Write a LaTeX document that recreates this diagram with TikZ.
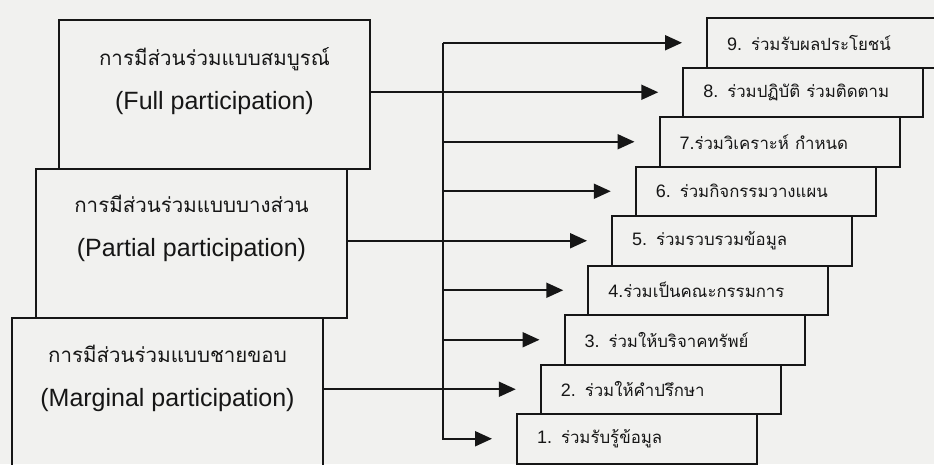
\documentclass[tikz,border=0pt]{standalone}
\usepackage{fontspec}
\setmainfont{Liberation Sans}
\newfontfamily\thaifont[Script=Thai]{Loma}
\usepackage{tikz}
\usetikzlibrary{arrows.meta}
\definecolor{paper}{RGB}{241,241,239}
\definecolor{ink}{RGB}{22,22,22}

\newcommand{\bigthai}[1]{{\thaifont\fontsize{20.5}{44}\selectfont #1}}
\newcommand{\stepthai}[1]{{\thaifont\fontsize{16.8}{22}\selectfont #1}}

\tikzset{
	bigbox/.style={draw, anchor=north west, minimum width=311pt, minimum height=149pt, inner sep=0pt},
	bigtext/.style={align=center, font=\fontsize{25}{44}\selectfont},
	stepbox/.style={draw, anchor=north west, minimum width=240pt, minimum height=49.5pt,
		inner xsep=20pt, inner ysep=0pt, text width=200pt, align=left, font=\fontsize{18}{22}\selectfont},
}

\begin{document}
\begin{tikzpicture}[x=1pt, y=-1pt, color=ink, line width=2pt, >={Triangle[length=17pt,width=15pt]}]
	\useasboundingbox[fill=paper] (0,0) rectangle (934,464);

	% the three kinds of participation
	\node[bigbox] (full) at (58,19) {};
	\node[bigbox] (partial) at (35,168) {};
	\node[bigbox, minimum height=170pt] (marginal) at (11,317) {};
	\node[bigtext] (fullT) at ([yshift=-62pt]full.north) {\bigthai{การมีส่วนร่วมแบบสมบูรณ์}\\(Full participation)};
	\node[bigtext] (partialT) at ([yshift=-60pt]partial.north) {\bigthai{การมีส่วนร่วมแบบบางส่วน}\\(Partial participation)};
	\node[bigtext] (marginalT) at ([yshift=-61pt]marginal.north) {\bigthai{การมีส่วนร่วมแบบชายขอบ}\\(Marginal participation)};

	% the nine steps
	\node[stepbox] (s1) at (516,413) {1. \stepthai{ร่วมรับรู้ข้อมูล}};
	\node[stepbox] (s2) at (539.75,363.5) {2. \stepthai{ร่วมให้คำปรึกษา}};
	\node[stepbox] (s3) at (563.5,314) {3. \stepthai{ร่วมให้บริจาคทรัพย์}};
	\node[stepbox] (s4) at (587.25,264.5) {4.\stepthai{ร่วมเป็นคณะกรรมการ}};
	\node[stepbox] (s5) at (611,215) {5. \stepthai{ร่วมรวบรวมข้อมูล}};
	\node[stepbox] (s6) at (634.75,165.5) {6. \stepthai{ร่วมกิจกรรมวางแผน}};
	\node[stepbox] (s7) at (658.5,116) {7.\stepthai{ร่วมวิเคราะห์ กำหนด}};
	\node[stepbox] (s8) at (682.25,66.5) {8. \stepthai{ร่วมปฏิบัติ ร่วมติดตาม}};
	\node[stepbox] (s9) at (706,17) {9. \stepthai{ร่วมรับผลประโยชน์}};

	% connectors
	\coordinate (spine) at (443,0);
	\draw[->] (spine |- s9.west) -- (spine |- s1.west) -- ([xshift=-24pt]s1.west);
	\draw[->] (spine |- s9.west) -- ([xshift=-24pt]s9.west);
	\draw[->] (full.east |- s8.west) -- ([xshift=-24pt]s8.west);
	\draw[->] (spine |- s7.west) -- ([xshift=-24pt]s7.west);
	\draw[->] (spine |- s6.west) -- ([xshift=-24pt]s6.west);
	\draw[->] (partial.east |- s5.west) -- ([xshift=-24pt]s5.west);
	\draw[->] (spine |- s4.west) -- ([xshift=-24pt]s4.west);
	\draw[->] (spine |- s3.west) -- ([xshift=-24pt]s3.west);
	\draw[->] (marginal.east |- s2.west) -- ([xshift=-24pt]s2.west);
\end{tikzpicture}
\end{document}
